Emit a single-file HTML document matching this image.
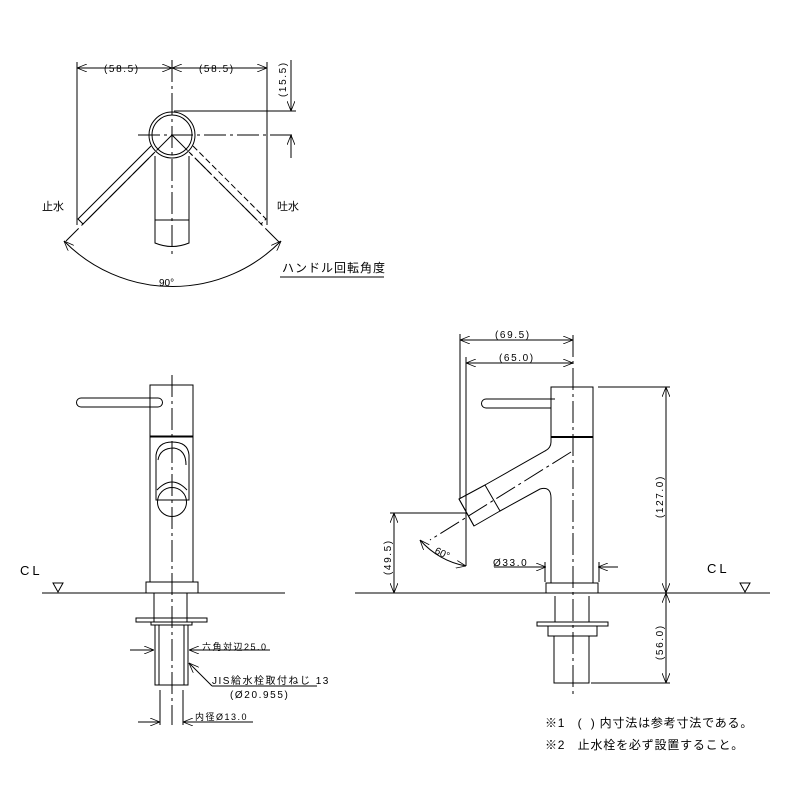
<!DOCTYPE html>
<html><head><meta charset="utf-8"><style>
html,body{margin:0;padding:0;background:#fff;}
svg{display:block;}
text{font-family:"Liberation Sans","Noto Sans CJK JP",sans-serif;fill:#000;}
.d{letter-spacing:1.6px;}
</style></head><body>
<svg width="800" height="800" viewBox="0 0 800 800" xmlns="http://www.w3.org/2000/svg">
<defs>
<marker id="a" markerWidth="10" markerHeight="8" refX="10" refY="4" orient="auto-start-reverse" markerUnits="userSpaceOnUse"><path d="M0,0 L10,4 L0,8" fill="none" stroke="#000" stroke-width="0.8"/></marker>
</defs>
<g stroke="#000" stroke-width="1" fill="none">
<!-- TOP VIEW -->
<line x1="77" y1="62" x2="77" y2="225"/>
<line x1="267" y1="62" x2="267" y2="225"/>
<line x1="77" y1="68" x2="172" y2="68" marker-start="url(#a)" marker-end="url(#a)"/>
<line x1="172" y1="68" x2="267" y2="68" marker-start="url(#a)" marker-end="url(#a)"/>
<line x1="172" y1="60" x2="172" y2="258" stroke-dasharray="22,4,3,4"/>
<line x1="138" y1="135" x2="296" y2="135" stroke-dasharray="22,4,3,4"/>
<line x1="174" y1="111" x2="296" y2="111"/>
<line x1="291" y1="60" x2="291" y2="111" marker-end="url(#a)"/>
<line x1="291" y1="135" x2="291" y2="158" marker-start="url(#a)"/>
<circle cx="172" cy="135" r="23"/>
<circle cx="172" cy="135" r="20"/>
<path d="M155,156 V243 Q172,250 189,243 V156"/>
<line x1="155" y1="220" x2="189" y2="220"/>
<path d="M151,146 L78,219 L83,224 L155,152"/>
<line x1="172" y1="135" x2="66" y2="241" stroke-dasharray="22,4,3,4"/>
<path d="M193,146 L266,219 L261,224 L189,152" stroke-dasharray="6,3"/>
<line x1="172" y1="135" x2="280" y2="243" stroke-dasharray="22,4,3,4"/>
<path d="M64,241 A152,152 0 0 0 281,241" marker-start="url(#a)" marker-end="url(#a)"/>
<line x1="280" y1="277" x2="384" y2="277"/>

<!-- FRONT VIEW -->
<line x1="42" y1="593" x2="285" y2="593"/>
<path d="M53,583 L63,583 L58,592 Z"/>
<line x1="172" y1="375" x2="172" y2="725" stroke-dasharray="22,4,3,4"/>
<rect x="150" y="385" width="43" height="51"/>
<rect x="150" y="436" width="43" height="146"/>
<line x1="150" y1="437" x2="193" y2="437"/>
<path d="M158,398 H81 A4.5,4.5 0 0 0 81,407 H158 A4.5,4.5 0 0 0 158,398 Z"/>
<path d="M156,455 Q158,442 172,442 Q188,442 189,455 L189,500 L156,500 Z"/>
<path d="M158,460 Q160,448 174,448 Q186,450 186,465"/>
<circle cx="172" cy="502" r="14.5"/>
<path d="M157,490 Q172,474 187,490"/>
<rect x="146" y="582" width="52" height="11"/>
<line x1="154" y1="593" x2="154" y2="622"/>
<line x1="187" y1="593" x2="187" y2="622"/>
<rect x="136" y="618" width="71" height="4"/>
<rect x="151" y="622" width="41" height="3"/>
<rect x="155" y="625" width="33" height="60"/>
<line x1="159" y1="625" x2="159" y2="685"/>
<line x1="184" y1="625" x2="184" y2="685"/>
<line x1="130" y1="650" x2="154" y2="650" marker-end="url(#a)"/>
<line x1="189" y1="650" x2="270" y2="650" marker-start="url(#a)"/>
<line x1="189" y1="663" x2="212" y2="686" marker-start="url(#a)"/>
<line x1="212" y1="686" x2="317" y2="686"/>
<line x1="160" y1="690" x2="160" y2="725"/>
<line x1="183" y1="690" x2="183" y2="725"/>
<line x1="138" y1="722" x2="160" y2="722" marker-end="url(#a)"/>
<line x1="183" y1="722" x2="253" y2="722" marker-start="url(#a)"/>

<!-- SIDE VIEW -->
<line x1="355" y1="593" x2="770" y2="593"/>
<path d="M740,583 L750,583 L745,592 Z"/>
<line x1="573" y1="335" x2="573" y2="695" stroke-dasharray="22,4,3,4"/>
<rect x="551" y="387" width="42" height="50"/>
<line x1="551" y1="437" x2="593" y2="437" stroke-width="2"/>
<line x1="593" y1="437" x2="593" y2="583"/>
<path d="M551,437 V442 Q551,448 545,451 L485,485"/>
<path d="M500,511 L540,489 Q551,486 551,498 V583"/>
<path d="M485,485 L459,499 L474,526 L500,511 Z"/>
<line x1="459" y1="499" x2="474" y2="526"/>
<line x1="571" y1="452" x2="430" y2="540" stroke-dasharray="22,4,3,4"/>
<path d="M486,399 H555 M486,399 A4,4 0 0 0 486,408 H551"/>
<rect x="546" y="583" width="52" height="10"/>
<line x1="555" y1="596" x2="555" y2="622"/>
<line x1="589" y1="596" x2="589" y2="622"/>
<rect x="537" y="622" width="71" height="4"/>
<rect x="548" y="626" width="49" height="10"/>
<rect x="554" y="636" width="35" height="47"/>
<!-- side dims -->
<line x1="460" y1="334" x2="460" y2="498"/>
<line x1="466" y1="357" x2="466" y2="566"/>
<line x1="460" y1="340" x2="573" y2="340" marker-start="url(#a)" marker-end="url(#a)"/>
<line x1="466" y1="363" x2="573" y2="363" marker-start="url(#a)" marker-end="url(#a)"/>
<line x1="598" y1="387" x2="670" y2="387"/>
<line x1="591" y1="683" x2="670" y2="683"/>
<line x1="666" y1="387" x2="666" y2="593" marker-start="url(#a)" marker-end="url(#a)"/>
<line x1="666" y1="593" x2="666" y2="683" marker-start="url(#a)" marker-end="url(#a)"/>
<line x1="390" y1="513" x2="466" y2="513"/>
<line x1="394" y1="513" x2="394" y2="593" marker-start="url(#a)" marker-end="url(#a)"/>
<path d="M420,540 A80,80 0 0 0 466,566" marker-start="url(#a)" marker-end="url(#a)"/>
<line x1="494" y1="567" x2="546" y2="567"/>
<line x1="525" y1="567" x2="546" y2="567" marker-end="url(#a)"/>
<line x1="598" y1="567" x2="618" y2="567" marker-start="url(#a)"/>
<line x1="545" y1="562" x2="545" y2="582"/>
<line x1="599" y1="562" x2="599" y2="582"/>
</g>
<g font-size="10">
<text class="d" x="104" y="72">(58.5)</text>
<text class="d" x="199" y="72">(58.5)</text>
<text class="d" x="286" y="97" transform="rotate(-90 286 97)">(15.5)</text>
<text x="42" y="210" font-size="11">止水</text>
<text x="277" y="210" font-size="11">吐水</text>
<text x="159" y="286">90°</text>
<text x="282" y="272" font-size="12" letter-spacing="1">ハンドル回転角度</text>
<text x="20" y="575" font-size="13" letter-spacing="3">CL</text>
<text x="202" y="650" font-size="9" letter-spacing="1.5">六角対辺25.0</text>
<text x="212" y="684" font-size="10" letter-spacing="1.5">JIS給水栓取付ねじ 13</text>
<text class="d" x="230" y="698">(Ø20.955)</text>
<text x="195" y="720" font-size="9" letter-spacing="1.5">内径Ø13.0</text>
<text class="d" x="495" y="338">(69.5)</text>
<text class="d" x="499" y="361">(65.0)</text>
<text class="d" x="663" y="518" transform="rotate(-90 663 518)">(127.0)</text>
<text class="d" x="663" y="660" transform="rotate(-90 663 660)">(56.0)</text>
<text class="d" x="391" y="575" transform="rotate(-90 391 575)">(49.5)</text>
<text x="434" y="553" transform="rotate(25 434 553)">60°</text>
<text class="d" x="493" y="566">Ø33.0</text>
<text x="707" y="573" font-size="13" letter-spacing="3">CL</text>
<text x="545" y="727" font-size="12" xml:space="preserve" letter-spacing="0.8">※1   (  ) 内寸法は参考寸法である。</text>
<text x="545" y="749" font-size="12" xml:space="preserve" letter-spacing="0.8">※2   止水栓を必ず設置すること。</text>
</g>
</svg>
</body></html>
